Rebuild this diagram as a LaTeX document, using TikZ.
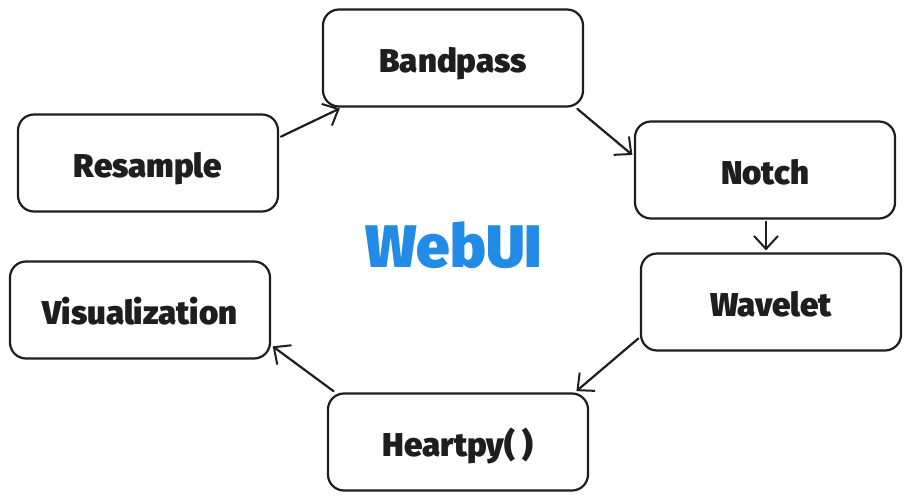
\documentclass[tikz,border=0pt]{standalone}
\usepackage{fontspec}
\setmainfont{Fira Sans}[BoldFont={Fira Sans Black}]
\usetikzlibrary{arrows.meta}
\definecolor{ink}{HTML}{1E1E1E}
\definecolor{webblue}{HTML}{228BE6}
\tikzset{
  box/.style={draw=ink, line width=2.2pt, rounded corners=16pt, fill=white,
    minimum width=260pt, minimum height=97pt, inner sep=0pt,
    text height=28pt, text depth=0pt,
    text=ink, font=\fontsize{33}{36}\selectfont\bfseries},
  conn/.style={draw=ink, line width=2.2pt, line cap=round,
    -{Straight Barb[length=13pt, width=24pt, line width=2pt]},
    shorten <=2pt, shorten >=2pt},
}
\begin{document}
\begin{tikzpicture}[x=1pt, y=-1pt]
\useasboundingbox (0,0) rectangle (911,501);
\node[box] (bp) at (453,58) {Bandpass};
\node[box] (rs) at (148,163) {Resample};
\node[box] (nt) at (765,170) {Notch};
\node[box] (wv) at (771,302) {Wavelet};
\node[box] (vz) at (140,310) {Visualization};
\node[box] (hp) at (458,442) {Heartpy( )};
\node[text=webblue, font=\fontsize{60}{66}\selectfont\bfseries] (web) at (454,245) {WebUI};
\draw[conn] (rs.11.7) -- (bp.204.8);
\draw[conn] (bp.-22) -- (nt.174.8);
\draw[conn] ([xshift=1pt]nt.south) -- ([xshift=1pt]nt.south |- wv.north);
\draw[conn] (wv.195) -- (hp.23.4);
\draw[conn] (hp.158.2) -- (vz.-15);
\end{tikzpicture}
\end{document}
